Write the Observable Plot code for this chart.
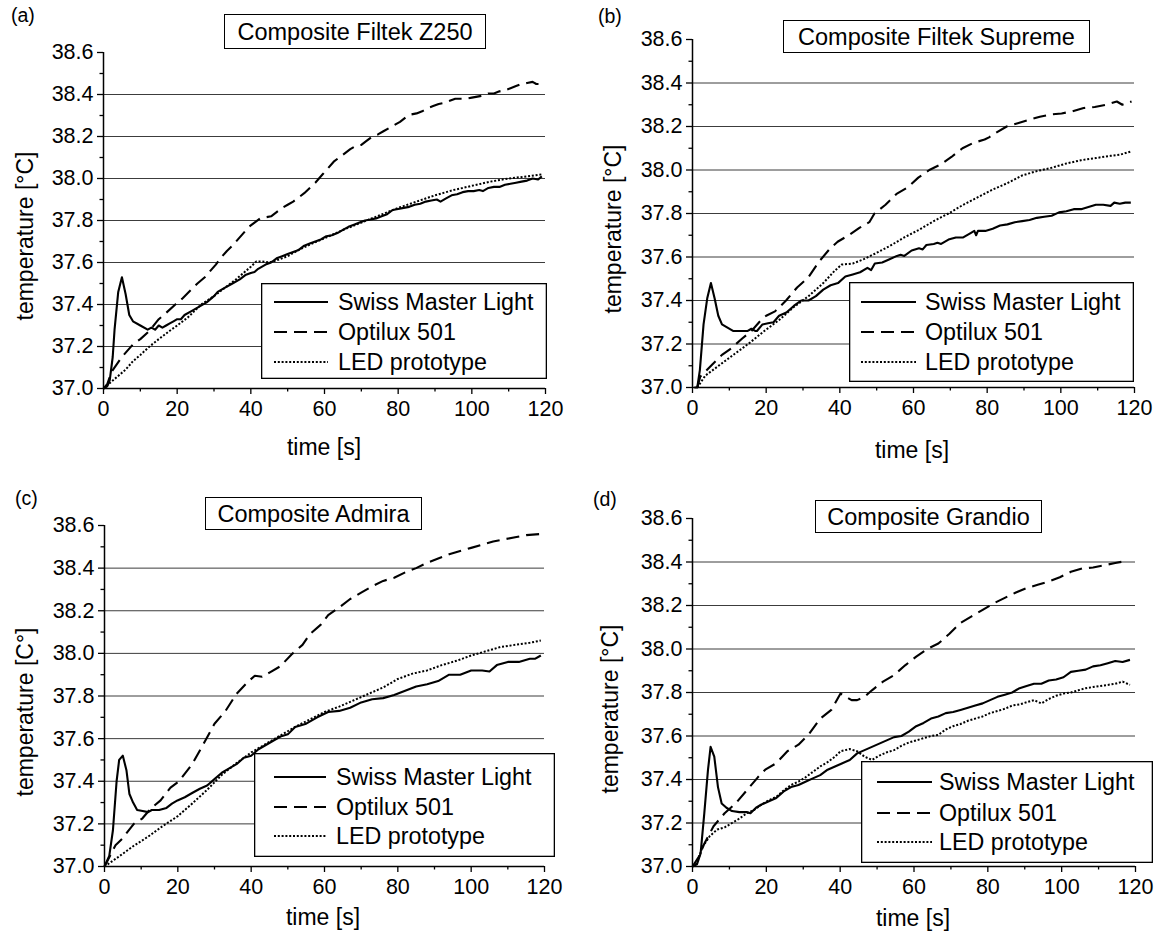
<!DOCTYPE html>
<html><head><meta charset="utf-8">
<script src="https://cdn.jsdelivr.net/npm/d3@7"></script>
<script src="https://cdn.jsdelivr.net/npm/@observablehq/plot@0.6"></script>
<style>
body{margin:0;background:#fff;}
#fig{position:relative;width:1155px;height:941px;font-family:"Liberation Sans",Arial,sans-serif;color:#000;overflow:hidden;background:#fff;}
#fig > svg{position:absolute;}
.tbox{position:absolute;border:1.3px solid #000;background:#fff;box-sizing:border-box;display:flex;align-items:center;justify-content:center;font-size:23.5px;white-space:nowrap;padding-top:2px;}
.lbl{position:absolute;white-space:nowrap;font-size:23px;line-height:1;}
.letter{position:absolute;white-space:nowrap;font-size:19.5px;line-height:1;transform:translateY(-50%);}
</style></head>
<body><div id="fig"></div>
<script>
// ---------- data ----------
const seriesNames = ["Swiss Master Light", "Optilux 501", "LED prototype"];
const panelLetters = ["(a)", "(b)", "(c)", "(d)"];
const panelTitles = ["Composite Filtek Z250", "Composite Filtek Supreme", "Composite Admira", "Composite Grandio"];
const yLabels = ["temperature [°C]", "temperature [°C]", "temperature [C°]", "temperature [°C]"];
const xLabel = "time [s]";
const xMajor = [0, 20, 40, 60, 80, 100, 120];
const xMinor = [10, 30, 50, 70, 90, 110];
const yMajor = [37.0, 37.2, 37.4, 37.6, 37.8, 38.0, 38.2, 38.4, 38.6];
const yMinor = [37.1, 37.3, 37.5, 37.7, 37.9, 38.1, 38.3, 38.5];
const gridVals = [37.2, 37.4, 37.6, 37.8, 38.0, 38.2, 38.4];

// (a) Composite Filtek Z250
const swissA = [[0,37.0],[1,37.01],[1.7,37.04],[2.5,37.15],[3,37.28],[4,37.46],[5,37.53],[6,37.45],[7,37.35],[8,37.32],[10,37.30],[12,37.28],[13,37.29],[14,37.28],[15,37.30],[16,37.29],[17,37.30],[18,37.31],[19,37.32],[20,37.33],[21,37.33],[22,37.35],[24,37.37],[26,37.39],[28,37.41],[30,37.44],[31,37.46],[33,37.48],[35,37.50],[37,37.52],[38.5,37.54],[40,37.55],[41,37.555],[42,37.57],[44,37.59],[45.5,37.60],[47,37.62],[48.5,37.63],[50,37.64],[51.5,37.65],[53,37.66],[54.5,37.68],[56,37.69],[57.5,37.70],[59,37.71],[60.5,37.725],[62,37.73],[63.5,37.74],[65,37.755],[66.5,37.77],[68,37.78],[69.5,37.79],[71,37.80],[72.5,37.805],[74,37.81],[75.5,37.82],[77,37.83],[78.5,37.85],[80,37.855],[81.5,37.86],[83,37.865],[84.5,37.875],[86,37.88],[87.5,37.89],[89,37.895],[90.5,37.90],[91.5,37.89],[93,37.905],[94.5,37.92],[96,37.925],[97.5,37.935],[99,37.94],[100.5,37.94],[102,37.945],[103,37.94],[104.5,37.955],[106,37.96],[107.5,37.96],[109,37.97],[110.5,37.975],[112,37.98],[113.5,37.985],[115,37.99],[116.5,38.0],[118,37.995],[119,38.01]];
const optA = [[0,37.0],[1,37.02],[2.2,37.08],[5,37.15],[8,37.21],[10,37.235],[12.5,37.275],[15,37.33],[17,37.36],[19.5,37.40],[21.5,37.43],[23.5,37.465],[25.5,37.50],[27.5,37.53],[29,37.56],[30.5,37.59],[32,37.625],[33.5,37.655],[35,37.68],[36.5,37.71],[38,37.74],[39.5,37.77],[41,37.79],[42.5,37.81],[44,37.815],[45.5,37.82],[47,37.84],[48.5,37.86],[50,37.875],[51.5,37.89],[53,37.91],[54.5,37.93],[56,37.955],[57.5,37.98],[59.5,38.02],[61,38.05],[62.5,38.08],[64,38.10],[65.5,38.12],[67,38.14],[68.5,38.155],[70,38.16],[71.5,38.18],[73,38.20],[74.5,38.21],[76,38.225],[77.5,38.24],[79,38.255],[80.5,38.27],[82,38.29],[83.5,38.305],[85,38.31],[86.5,38.32],[88,38.335],[89.5,38.345],[91,38.355],[92.5,38.36],[94,38.37],[95.5,38.38],[97,38.38],[98.5,38.38],[100,38.385],[101.5,38.39],[103,38.395],[104.5,38.405],[106,38.405],[107.5,38.415],[109,38.42],[110.5,38.43],[112,38.44],[113.5,38.45],[115,38.455],[116.5,38.46],[117.5,38.45],[119,38.45]];
const ledA = [[0,37.0],[2,37.03],[4,37.06],[6,37.09],[8,37.13],[10,37.16],[12.5,37.20],[15,37.235],[18,37.275],[20,37.30],[23,37.34],[26.5,37.40],[30,37.44],[33,37.48],[36,37.52],[38,37.55],[40,37.58],[41.5,37.605],[43,37.605],[45,37.60],[47,37.61],[50,37.63],[53,37.66],[56,37.685],[60,37.715],[65,37.755],[70,37.79],[75,37.825],[80,37.86],[85,37.89],[90,37.92],[95,37.945],[100,37.965],[105,37.985],[110,38.0],[115,38.01],[119,38.02]];

// (b) Composite Filtek Supreme
const swissB = [[0.5,37.0],[1.3,37.0],[2,37.08],[3,37.29],[4,37.41],[5,37.48],[6,37.41],[7,37.33],[8,37.29],[9.5,37.275],[11,37.26],[12.5,37.26],[15,37.26],[16,37.27],[17,37.26],[17.5,37.26],[19,37.29],[20.5,37.295],[22,37.30],[23.5,37.33],[25.5,37.345],[27.5,37.375],[29.5,37.40],[31.5,37.40],[33.5,37.42],[35.5,37.45],[37.5,37.47],[39.5,37.48],[41.5,37.51],[43.5,37.52],[45.5,37.53],[47.5,37.55],[48.5,37.54],[49.5,37.57],[51.5,37.575],[53.5,37.59],[55.5,37.605],[56.5,37.61],[57.5,37.605],[59.5,37.63],[61.5,37.64],[62.5,37.635],[63.5,37.655],[65.5,37.66],[66.5,37.665],[67.5,37.66],[69.5,37.68],[71.5,37.69],[73.5,37.69],[75.5,37.71],[76.5,37.72],[77,37.70],[77.5,37.72],[79.5,37.72],[81.5,37.73],[83.5,37.745],[85.5,37.75],[87.5,37.76],[89.5,37.765],[91.5,37.77],[93.5,37.78],[95.5,37.785],[97.5,37.79],[99.5,37.805],[101.5,37.81],[103.5,37.82],[105.5,37.82],[107.5,37.83],[109.5,37.84],[111.5,37.84],[113.5,37.835],[114.5,37.85],[116,37.845],[117.5,37.85],[119,37.85]];
const optB = [[1.3,37.0],[2.1,37.05],[5.3,37.105],[8,37.15],[10.5,37.18],[13.5,37.225],[16,37.26],[18.6,37.31],[20,37.33],[22.4,37.35],[25.4,37.40],[28.4,37.46],[31.4,37.505],[34.4,37.58],[37.4,37.64],[39.4,37.67],[42.4,37.70],[45.4,37.735],[48,37.76],[49.4,37.80],[52.4,37.84],[55.4,37.89],[58.4,37.92],[61.3,37.965],[64.3,38.0],[67.3,38.025],[70.3,38.06],[73.3,38.10],[76.3,38.125],[79.3,38.14],[80.5,38.15],[82.3,38.17],[85.3,38.20],[88.3,38.215],[91.3,38.23],[94.3,38.245],[97.3,38.255],[100.2,38.26],[103.2,38.27],[106.2,38.285],[109.2,38.29],[112.2,38.30],[115.2,38.315],[116.7,38.30],[119.2,38.315]];
const ledB = [[1.3,37.0],[3.5,37.055],[7.5,37.105],[11.5,37.155],[15.5,37.205],[19.5,37.26],[23.5,37.31],[27.5,37.37],[31.5,37.42],[35.5,37.48],[38.5,37.535],[40.5,37.565],[43.5,37.57],[46.5,37.59],[49.5,37.615],[53.5,37.65],[57.5,37.69],[61.5,37.725],[65.5,37.765],[69.5,37.80],[73.5,37.84],[77.5,37.875],[81.5,37.91],[85.5,37.94],[89.5,37.975],[93.5,37.995],[97.5,38.01],[101.5,38.03],[105.5,38.045],[109.5,38.055],[113.5,38.065],[116,38.07],[119,38.085]];

// (c) Composite Admira
const swissC = [[0,37.0],[1.3,37.05],[2.3,37.17],[3.3,37.40],[4,37.50],[5,37.52],[6,37.45],[6.8,37.34],[7.8,37.30],[8.9,37.265],[10.4,37.26],[11.9,37.255],[12.9,37.265],[14.9,37.265],[16.9,37.275],[18.4,37.295],[19.9,37.31],[21.9,37.325],[23.9,37.345],[26,37.365],[28,37.38],[30,37.41],[32,37.44],[34,37.46],[36,37.48],[38,37.51],[40,37.52],[42,37.55],[44,37.57],[46,37.59],[48,37.61],[50,37.62],[52,37.655],[55,37.67],[58,37.70],[61,37.725],[64,37.73],[67,37.745],[70,37.77],[73,37.785],[76,37.79],[79,37.805],[82,37.825],[85,37.845],[88,37.855],[91,37.87],[94,37.90],[97,37.90],[100,37.92],[103,37.92],[105,37.915],[107,37.945],[110,37.96],[113,37.96],[116,37.975],[117.5,37.975],[119,37.99]];
const optC = [[0,37.0],[1.8,37.06],[3,37.10],[4.8,37.13],[8,37.20],[10.3,37.225],[12.5,37.27],[15.3,37.31],[18,37.37],[20.3,37.40],[23.9,37.48],[27,37.575],[30,37.67],[33,37.73],[36,37.81],[39,37.865],[41,37.895],[43,37.89],[45,37.91],[48,37.94],[51,37.995],[54,38.04],[56,38.09],[59,38.135],[61,38.18],[64,38.215],[67,38.255],[70,38.285],[73,38.315],[76,38.34],[79,38.355],[82,38.38],[85,38.40],[88,38.425],[91,38.445],[94,38.465],[97,38.48],[100,38.495],[103,38.51],[106,38.525],[109,38.535],[112,38.545],[115,38.555],[119,38.56]];
const ledC = [[0,37.0],[3.8,37.045],[7.8,37.095],[11.9,37.14],[15.9,37.19],[19.9,37.235],[23.9,37.295],[28,37.36],[32,37.43],[36,37.485],[40,37.535],[44,37.575],[48,37.615],[52,37.655],[56,37.69],[60,37.725],[64,37.75],[68,37.78],[72,37.81],[76,37.84],[80,37.88],[84,37.905],[88,37.92],[92,37.945],[96,37.965],[100,37.99],[104,38.01],[108,38.03],[112,38.04],[116,38.05],[119,38.06]];

// (d) Composite Grandio
const swissD = [[0,37.0],[1.2,37.01],[2.2,37.06],[3.2,37.245],[4.2,37.445],[4.9,37.55],[5.9,37.505],[6.9,37.365],[7.9,37.29],[9.2,37.27],[10.7,37.255],[12.7,37.25],[14.7,37.25],[15.7,37.245],[17.2,37.27],[18.7,37.285],[20.7,37.30],[22.7,37.315],[24.7,37.345],[26.7,37.365],[28.7,37.375],[30.6,37.39],[32.6,37.405],[34.6,37.42],[36.6,37.445],[38.6,37.46],[40.6,37.475],[42.6,37.49],[44.6,37.52],[46.6,37.535],[48.6,37.55],[50.6,37.565],[52.6,37.58],[54.6,37.595],[56.6,37.60],[58.6,37.62],[60.6,37.645],[62.6,37.66],[64.6,37.68],[66.6,37.69],[68.6,37.705],[70.6,37.71],[72.6,37.72],[74.6,37.73],[76.6,37.74],[78.6,37.75],[80.6,37.765],[82.6,37.78],[84.6,37.79],[86.6,37.80],[88.6,37.82],[90.5,37.83],[92.5,37.84],[94.5,37.84],[96.5,37.855],[98.5,37.86],[100.5,37.87],[102.5,37.895],[104.5,37.90],[106.5,37.905],[108.5,37.92],[110.5,37.925],[112.5,37.935],[114.5,37.945],[116.5,37.94],[118.5,37.95]];
const optD = [[0,37.0],[1.7,37.045],[3.2,37.105],[5.7,37.185],[8.7,37.245],[11.7,37.29],[14.7,37.35],[17.7,37.41],[19.7,37.445],[22.7,37.475],[25.7,37.53],[28.7,37.56],[31.6,37.61],[34.6,37.68],[37.6,37.72],[40.1,37.795],[41.6,37.78],[43.1,37.765],[44.6,37.765],[46.6,37.78],[48.6,37.81],[51.6,37.85],[54.6,37.88],[57.6,37.925],[60.6,37.965],[63.6,38.0],[66.6,38.025],[69.6,38.07],[72.6,38.12],[75.6,38.15],[78.6,38.18],[81.6,38.21],[84.6,38.235],[87.6,38.26],[90.5,38.28],[93.5,38.295],[96.5,38.31],[99.5,38.33],[102.5,38.355],[105.5,38.37],[108.5,38.375],[111.5,38.385],[114.5,38.395],[117.5,38.405]];
const ledD = [[0,37.0],[1.2,37.015],[2.7,37.09],[4.7,37.14],[6.7,37.17],[8.7,37.18],[10.7,37.20],[12.7,37.22],[14.7,37.245],[16.7,37.26],[18.7,37.285],[20.7,37.305],[22.7,37.32],[24.7,37.35],[26.7,37.375],[28.7,37.39],[30.6,37.41],[32.6,37.435],[34.6,37.46],[36.6,37.48],[38.6,37.505],[40.1,37.53],[42.6,37.54],[44.6,37.53],[46.6,37.505],[48.6,37.49],[50.6,37.51],[52.6,37.525],[54.6,37.535],[56.6,37.555],[58.6,37.57],[60.6,37.58],[62.6,37.59],[64.6,37.60],[66.6,37.605],[68.6,37.63],[70.6,37.645],[72.6,37.655],[74.6,37.67],[76.6,37.68],[78.6,37.69],[80.6,37.705],[82.6,37.715],[84.6,37.725],[86.6,37.74],[88.6,37.745],[90.5,37.755],[92.5,37.765],[94.5,37.75],[96.5,37.77],[98.5,37.785],[100.5,37.795],[102.5,37.80],[104.5,37.81],[106.5,37.82],[108.5,37.825],[110.5,37.83],[112.5,37.835],[114.5,37.84],[116.5,37.85],[118.5,37.835]];

const panelSeries = [[swissA, optA, ledA], [swissB, optB, ledB], [swissC, optC, ledC], [swissD, optD, ledD]];

// ---------- layout (page pixels) ----------
const layout = [
  {ox:0,   oy:0,   w:580, h:470, l:103, r:545,  t:52,  b:388, tb:[224,14,262,35],  lg:[261,283,286,96, 13,67,77,[19,49,79]],  lt:[11,16],  xl:[324,447], yl:[25,236]},
  {ox:580, oy:0,   w:575, h:470, l:692, r:1134, t:39,  b:387, tb:[783,20,307,33],  lg:[849,282,285,100,12,67,76,[20,50,80]],  lt:[598,17], xl:[912,450], yl:[613,229]},
  {ox:0,   oy:470, w:580, h:471, l:104, r:544,  t:525, b:866, tb:[205,497,217,33], lg:[254,753,301,104,20,72,82,[24,54,83]],  lt:[15,499], xl:[323,917], yl:[25,712]},
  {ox:580, oy:470, w:575, h:471, l:692, r:1135, t:518, b:866, tb:[815,500,227,33], lg:[861,761,292,102,16,71,78,[21,52,81]],  lt:[593,500],xl:[913,918], yl:[610,709]}
];
const lineStyles = [
  {strokeWidth: 2.1, dash: null},
  {strokeWidth: 2.1, dash: "13,7"},
  {strokeWidth: 2, dash: "2,1.8"}
];
const FONT = '"Liberation Sans", Arial, sans-serif';
const TICK_FS = 21.5;

const fig = document.getElementById("fig");

layout.forEach((L, i) => {
  const marks = [
    Plot.ruleY(gridVals, {stroke: "#3c3c3c", strokeWidth: 1}),
    ...panelSeries[i].map((s, k) => Plot.line(s, {
      x: d => d[0], y: d => d[1], stroke: "#000",
      strokeWidth: lineStyles[k].strokeWidth,
      strokeDasharray: lineStyles[k].dash || undefined,
      strokeLinejoin: "round",
      strokeLinecap: "butt"
    })),
    Plot.axisX({ticks: xMajor, tickSize: 6, tickPadding: 6, tickFormat: d => String(d), fontSize: TICK_FS, label: null, strokeWidth: 1.3}),
    Plot.axisX({ticks: xMinor, tickSize: 3.5, tickFormat: () => "", label: null, strokeWidth: 1.3}),
    Plot.axisY({ticks: yMajor, tickSize: 6, tickPadding: 4, tickFormat: d3.format(".1f"), fontSize: TICK_FS, label: null, strokeWidth: 1.3}),
    Plot.axisY({ticks: yMinor, tickSize: 3.5, tickFormat: () => "", label: null, strokeWidth: 1.3}),
    Plot.ruleX([0], {stroke: "#000", strokeWidth: 1.5}),
    Plot.ruleY([37], {stroke: "#000", strokeWidth: 1.5})
  ];
  const svg = Plot.plot({
    width: L.w, height: L.h,
    marginLeft: L.l - L.ox, marginRight: L.ox + L.w - L.r,
    marginTop: L.t - L.oy, marginBottom: L.oy + L.h - L.b,
    x: {domain: [0, 120]},
    y: {domain: [37, 38.6]},
    style: {fontFamily: FONT, fontSize: TICK_FS + "px", color: "#000", background: "transparent", overflow: "visible"},
    marks
  });
  svg.style.position = "absolute";
  svg.style.left = L.ox + "px";
  svg.style.top = L.oy + "px";
  fig.appendChild(svg);

  // title box
  const tb = document.createElement("div");
  tb.className = "tbox";
  Object.assign(tb.style, {left: L.tb[0] + "px", top: L.tb[1] + "px", width: L.tb[2] + "px", height: L.tb[3] + "px"});
  tb.textContent = panelTitles[i];
  fig.appendChild(tb);

  // panel letter
  const lt = document.createElement("div");
  lt.className = "letter";
  Object.assign(lt.style, {left: L.lt[0] + "px", top: L.lt[1] + "px"});
  lt.textContent = panelLetters[i];
  fig.appendChild(lt);

  // x label
  const xl = document.createElement("div");
  xl.className = "lbl";
  Object.assign(xl.style, {left: L.xl[0] + "px", top: L.xl[1] + "px", transform: "translate(-50%,-50%)"});
  xl.textContent = xLabel;
  fig.appendChild(xl);

  // y label
  const yl = document.createElement("div");
  yl.className = "lbl";
  Object.assign(yl.style, {left: L.yl[0] + "px", top: L.yl[1] + "px", transform: "translate(-50%,-50%) rotate(-90deg)"});
  yl.textContent = yLabels[i];
  fig.appendChild(yl);

  // legend
  const [gx, gy, gw, gh, lx0, lx1, tx, rows] = L.lg;
  const lg = d3.select(fig).append("svg")
    .attr("width", gw).attr("height", gh)
    .style("position", "absolute").style("left", gx + "px").style("top", gy + "px")
    .style("font-family", FONT);
  lg.append("rect").attr("x", 0.65).attr("y", 0.65).attr("width", gw - 1.3).attr("height", gh - 1.3)
    .attr("fill", "#fff").attr("stroke", "#000").attr("stroke-width", 1.3);
  seriesNames.forEach((name, k) => {
    const yy = rows[k];
    const ln = lg.append("line").attr("x1", lx0).attr("x2", lx1).attr("y1", yy).attr("y2", yy)
      .attr("stroke", "#000").attr("stroke-width", lineStyles[k].strokeWidth);
    if (lineStyles[k].dash) ln.attr("stroke-dasharray", lineStyles[k].dash);
    lg.append("text").attr("x", tx).attr("y", yy).attr("dy", "0.36em")
      .attr("font-size", 23.3).attr("fill", "#000").text(name);
  });
});
</script>
</body></html>
